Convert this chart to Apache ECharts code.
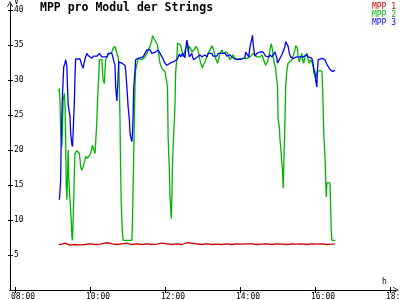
<!DOCTYPE html>
<html><head><meta charset="utf-8">
<script src="https://cdn.jsdelivr.net/npm/echarts@6/dist/echarts.min.js"></script>
<style>html,body{margin:0;padding:0;background:#fff}#c{width:400px;height:300px}</style>
</head><body><div id="c"></div>
<script>
const chartTitle = 'MPP pro Modul der Strings';
const seriesNames = ['MPP 1', 'MPP 2', 'MPP 3'];
const xTickLabels = ['08:00', '10:00', '12:00', '14:00', '16:00', '18:00'];
const yTickValues = [5, 10, 15, 20, 25, 30, 35, 40];

// time in minutes since midnight, value in V
const mpp1Minutes = [549,554,559,562,567,575,583,591,599,607,615,623,628,634,642,650,658,666,674,682,690,698,706,714,722,730,738,746,754,762,770,778,786,794,802,810,818,826,834,842,850,858,866,874,882,890,898,906,914,922,930,938,946,954,962,970,978,986,991];
const mpp1Values = [6.5,6.55,6.7,6.5,6.4,6.5,6.45,6.5,6.6,6.5,6.55,6.7,6.75,6.6,6.5,6.6,6.7,6.5,6.6,6.5,6.6,6.5,6.55,6.7,6.6,6.5,6.6,6.5,6.75,6.7,6.6,6.5,6.6,6.5,6.55,6.5,6.6,6.5,6.6,6.55,6.6,6.6,6.5,6.55,6.6,6.5,6.6,6.55,6.5,6.6,6.55,6.6,6.5,6.6,6.55,6.6,6.5,6.55,6.6];

const mpp2Minutes = [549,550,551,552,554,555,556,558,559,560,561,562,563,564,565,567,568,569,570,571,572,573,574,575,578,580,582,583,584,586,588,591,592,595,598,600,602,603,604,605,607,608,610,611,613,614,616,618,619,620,622,623,624,627,628,631,634,636,639,640,642,643,644,645,646,647,648,649,650,651,652,666,667,668,669,670,671,672,675,676,679,682,684,687,690,692,695,698,699,701,704,707,708,711,714,716,719,722,723,724,726,727,728,729,730,731,732,734,735,736,738,739,742,744,746,747,748,750,752,755,756,758,760,762,764,767,768,771,774,776,779,780,783,786,788,791,794,796,798,800,803,805,807,810,812,815,818,820,823,826,828,831,834,836,839,844,847,850,852,855,858,860,863,866,868,871,874,876,879,880,883,885,887,889,891,892,894,896,899,900,902,903,904,906,907,908,909,911,912,914,915,916,919,922,924,927,928,931,932,934,936,938,939,941,943,946,948,950,952,954,956,957,959,960,962,963,970,971,972,973,975,976,977,978,983,984,985,986,991];
const mpp2Values = [28.3,28.8,27,23,20.5,23,27.1,28.1,26.5,22,14.8,12.9,16,20,16,12.9,12.8,10,7.6,7.1,10,13.3,17.1,19.5,19.9,20,19.5,18.6,17.6,17.1,17.6,18.6,19.1,18.8,18.6,19.5,20.2,20.7,20.9,20.5,19.5,20.9,24.3,27.1,30.5,32.9,33.1,32.9,31.4,30,29.5,31.4,32.9,33.1,33.6,33.8,34,34.5,34.8,34.5,33.8,33.8,33.3,32.4,29,24.3,17.1,12.4,10,8.1,7.1,7.1,10,14.8,19.5,24.3,29,31.4,32.6,33.1,33.3,32.9,33.1,33.3,33.8,34.3,34.8,35.7,36.3,36,35.5,35,34.3,32.4,31.7,31.5,31.2,31,29,21.9,17.1,13.3,11.9,10.2,13,18.1,20.5,24.3,26.7,31,33.3,35.3,35.3,35,34.8,33.8,33.3,33.1,34.5,35.2,34,34.8,34.5,34,33.8,34.5,34.8,34.5,33.3,32.4,31.7,32.1,32.6,33.3,33.8,34.3,34.9,34.5,33.8,33.1,32.4,33.1,33.8,34.3,33.8,33.6,34,33.6,32.9,33.3,33.6,33.1,32.9,33,33.1,33.1,33.3,33.1,33.2,33.3,33.4,33.8,33.6,33.3,33.1,33.3,33.6,33.1,32.9,32.1,32.6,33.3,34.3,35.2,34.3,33.3,32.4,31.7,29,24.3,23.3,21.4,20.5,18.1,17.1,14.5,17.6,24.3,29,31.4,31.9,32.4,32.6,32.9,33,34.3,34.9,34.5,33.3,32.6,33.3,33.8,32.9,32.4,33.3,33.8,32.9,32.4,32.9,32.6,31.9,31,30.7,30.2,31,31.3,31.3,29,26.2,22.4,19,16,13.3,15.3,15.3,12,8.6,7.1,7.1];

const mpp3Minutes = [550,552,553,555,557,559,560,562,563,564,567,568,570,571,572,574,575,576,583,586,588,591,594,596,599,602,604,607,610,614,618,621,626,628,631,634,636,639,640,642,643,644,645,650,652,655,656,658,659,660,662,663,664,666,667,668,669,671,672,676,679,684,687,690,692,695,698,700,704,708,711,716,719,722,724,727,730,732,735,738,740,742,744,746,747,749,751,752,754,755,756,757,758,760,762,763,765,767,768,771,773,775,778,780,783,786,788,791,794,796,799,802,804,807,810,812,815,818,820,823,826,828,831,834,836,839,842,844,847,848,851,853,855,858,859,860,862,863,866,868,871,874,876,879,880,883,885,887,890,892,895,896,898,899,901,903,906,908,911,912,914,916,918,920,922,924,927,930,932,935,938,940,943,946,948,951,954,955,956,957,959,960,962,963,964,967,971,973,975,976,979,981,983,984,987,989,991];
const mpp3Values = [12.9,15.5,22,28,31.9,32.4,32.9,32,29,26.5,24.8,22.4,20.8,20.5,22.5,26.9,30.5,33,33,32.1,31.7,33,33.8,33.5,33.3,33.1,33.4,33.2,33.4,33.8,33.3,33.1,33.3,33.8,34,33.8,34,32.1,29,27,26.9,30.5,32.6,32.4,32.5,32.1,31.4,29,27.6,26.2,24.3,22.4,21.9,21.2,22.4,25.2,29,31.4,32.9,33.1,33.3,33.3,33.8,34.3,34.5,34.3,33.8,33.8,34,34.3,33.8,33,32.4,32.1,32.2,32.4,32.5,32.6,32.6,32.9,33.3,33.7,33.3,33.1,33.8,34,33.2,34.3,35.7,35.9,34.7,33.8,33.3,33.5,33.8,33.3,32.9,33.1,32.9,33.3,33.4,33.6,33.3,33.4,33.6,33.3,33.8,34,33.8,33.4,33.6,33.4,33.8,33.9,33.8,34,33.8,33.4,33.2,33.6,33.3,33.1,33,32.9,32.9,32.9,33,33.1,33.2,34,33.8,33.3,34.8,35.9,36.4,35.2,33.8,33.4,33.8,33.9,34,34,34,33.8,33.4,33.2,33.3,33.6,33.3,33.6,34,33.8,33.1,32.4,32.6,33.1,33.6,33.8,34.8,35.5,35.7,34.8,33.8,33.3,33.1,33.1,33.2,33.3,33.4,33.3,33.1,33.3,33.3,33.6,33.3,33.1,33.1,32.9,32.4,31.7,31,30,29,31.4,32.9,33,33.1,33,32.9,32.6,32.1,31.9,31.5,31.3,31.2,31.3,31.4];

const seriesColors = ['#c80000', '#00b400', '#0000ff'];
const font = 'DejaVu Sans Mono';

function toMin(s) { const p = s.split(':'); return +p[0] * 60 + +p[1]; }
function toLabel(m) {
  const h = Math.round(m / 60);
  return (h < 10 ? '0' : '') + h + ':00';
}
const xTickValues = xTickLabels.map(toMin);
const xLabelValues = xTickValues.map(v => v - 7.5);
const xMin = 471, xMax = 1088.6;
const yMin = 0, yMax = 40.86;
const arrow = 'path://M0,8 L4,0 L8,8 L7,8 L4,2 L1,8 Z';

function pairs(t, v) { return t.map((x, i) => [x, v[i]]); }
const allTimes = [mpp1Minutes, mpp2Minutes, mpp3Minutes];
const allValues = [mpp1Values, mpp2Values, mpp3Values];

const chart = echarts.init(document.getElementById('c'), null, { renderer: 'canvas' });
chart.setOption({
  animation: false,
  backgroundColor: '#ffffff',
  title: {
    text: chartTitle, left: 40, top: 2, padding: 0,
    textStyle: { fontFamily: font, fontWeight: 'bold', fontSize: 11.5, color: '#000' }
  },
  legend: {
    orient: 'vertical', right: 4, top: 3, padding: 0,
    icon: 'none', itemWidth: 0, itemHeight: 7, itemGap: 0,
    selectedMode: false,
    data: seriesNames.map((n, i) => ({ name: n, textStyle: { color: seriesColors[i] } })),
    textStyle: { fontFamily: font, fontSize: 8, lineHeight: 7.5, padding: 0 }
  },
  grid: { left: 10, right: 4, top: 4, bottom: 10, containLabel: false, outerBoundsMode: 'none' },
  xAxis: [{
    type: 'value', min: xMin, max: xMax,
    axisLine: { show: true, onZero: false, lineStyle: { color: '#000', width: 1 }, symbol: ['none', arrow], symbolSize: [6, 7] },
    axisTick: { show: true, inside: true, length: 3, customValues: xTickValues, lineStyle: { color: '#000' } },
    axisLabel: {
      show: true, customValues: xLabelValues, align: 'left', margin: 3,
      showMinLabel: true, showMaxLabel: true, hideOverlap: false,
      fontFamily: font, fontSize: 8, color: '#000',
      formatter: function (v) { return toLabel(v + 7.5); }
    },
    splitLine: { show: false },
    name: 'h', nameLocation: 'end', nameGap: -14,
    nameTextStyle: { fontFamily: font, fontSize: 8, color: '#000', verticalAlign: 'bottom', align: 'left', padding: [0, 0, 4, 0] }
  }, {
    type: 'value', min: xMin, max: xMax, position: 'bottom',
    axisLine: { show: false },
    axisTick: { show: true, inside: false, length: 3, customValues: xTickValues, lineStyle: { color: '#000' } },
    axisLabel: { show: false }, splitLine: { show: false }
  }],
  yAxis: [{
    type: 'value', min: yMin, max: yMax,
    axisLine: { show: true, onZero: false, lineStyle: { color: '#000', width: 1 }, symbol: ['none', arrow], symbolSize: [6, 7] },
    axisTick: { show: true, inside: true, length: 3, customValues: yTickValues, lineStyle: { color: '#000' } },
    axisLabel: { show: true, inside: true, margin: 4, customValues: yTickValues, fontFamily: font, fontSize: 8, color: '#000' },
    splitLine: { show: false },
    name: 'V', nameLocation: 'end', nameGap: -6,
    nameTextStyle: { fontFamily: font, fontSize: 8, color: '#000', align: 'left', verticalAlign: 'bottom', padding: [0, 0, 0, 4] }
  }, {
    type: 'value', min: yMin, max: yMax, position: 'left',
    axisLine: { show: false },
    axisTick: { show: true, inside: false, length: 2, customValues: yTickValues, lineStyle: { color: '#000' } },
    axisLabel: { show: false }, splitLine: { show: false }
  }],
  series: seriesNames.map((n, i) => ({
    name: n, type: 'line', xAxisIndex: 0, yAxisIndex: 0,
    data: pairs(allTimes[i], allValues[i]),
    showSymbol: false, symbol: 'none', smooth: false,
    color: seriesColors[i],
    lineStyle: { color: seriesColors[i], width: 1.3 },
    z: [1, 2, 3][i]
  }))
});
</script>
</body></html>
